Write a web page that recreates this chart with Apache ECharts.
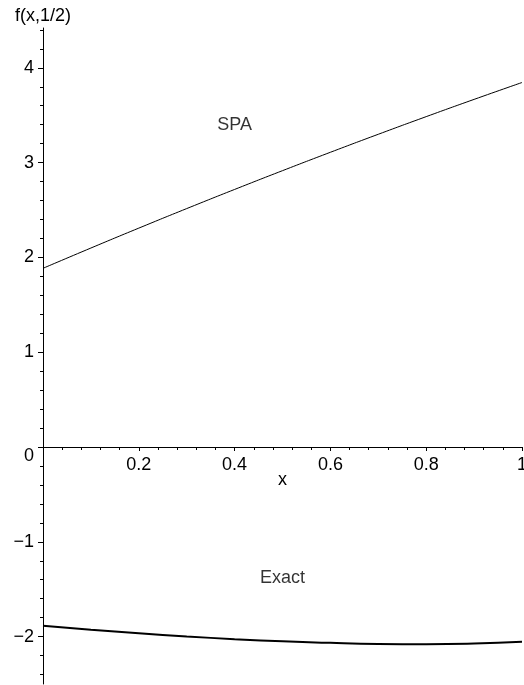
<!DOCTYPE html>
<html>
<head>
<meta charset="utf-8">
<script src="https://cdn.jsdelivr.net/npm/echarts@6/dist/echarts.min.js"></script>
<style>
html,body{margin:0;padding:0;background:#fff;}
#c{width:524px;height:685px;}
</style>
</head>
<body>
<div id="c"></div>
<script>
var xs = [0, 0.1, 0.2, 0.3, 0.4, 0.5, 0.6, 0.7, 0.8, 0.9, 1.0];
var spa = [1.885, 2.099, 2.309, 2.515, 2.717, 2.915, 3.109, 3.299, 3.485, 3.667, 3.845];
var exact = [-1.885, -1.928, -1.965, -1.998, -2.027, -2.050, -2.066, -2.077, -2.080, -2.073, -2.055];
var yLabels = [-2, -1, 0, 1, 2, 3, 4];
var yMinor = [-2.4, -2.2, -1.8, -1.6, -1.4, -1.2, -0.8, -0.6, -0.4, -0.2, 0.2, 0.4, 0.6, 0.8, 1.2, 1.4, 1.6, 1.8, 2.2, 2.4, 2.6, 2.8, 3.2, 3.4, 3.6, 3.8, 4.2, 4.4];
var xLabels = [0.2, 0.4, 0.6, 0.8, 1];
var notes = [[0.4, 3.40, 'SPA'], [0.5, -1.38, 'Exact']];

var font = 'Liberation Sans, Arial, Helvetica, sans-serif';
var chart = echarts.init(document.getElementById('c'), null, {renderer: 'canvas'});

function pairs(a) { return xs.map(function (x, i) { return [x, a[i]]; }); }

chart.setOption({
  animation: false,
  backgroundColor: '#fff',
  grid: [
    {left: 43, right: 2, top: 28, bottom: 1, containLabel: false, outerBoundsMode: 'none'},
    {left: 43, right: 2, top: 28, bottom: 238, containLabel: false, outerBoundsMode: 'none'}
  ],
  xAxis: [{
    gridIndex: 0, type: 'value', min: 0, max: 1, show: false,
    axisLine: {onZero: false}
  }, {
    gridIndex: 1, type: 'value', min: 0, max: 1, interval: 0.2, position: 'bottom',
    name: 'x', nameLocation: 'middle', nameGap: 24, nameMoveOverlap: false,
    nameTextStyle: {color: '#000', fontSize: 18, fontFamily: font},
    axisLine: {onZero: false, lineStyle: {color: '#000', width: 1}},
    axisTick: {show: true, length: 4, customValues: xLabels, lineStyle: {color: '#000'}},
    minorTick: {show: true, splitNumber: 5, length: 3, lineStyle: {color: '#000'}},
    splitLine: {show: false},
    axisLabel: {
      color: '#000', fontSize: 18, fontFamily: font, margin: 9,
      customValues: xLabels,
      formatter: function (v) { return String(+(+v).toFixed(1)); }
    }
  }],
  yAxis: [{
    gridIndex: 0, type: 'value', min: -2.5, max: 4.42, position: 'left',
    name: 'f(x,1/2)', nameLocation: 'end', nameGap: 3,
    nameTextStyle: {color: '#000', fontSize: 18, fontFamily: font, align: 'center'},
    axisLine: {onZero: false, lineStyle: {color: '#000', width: 1}},
    axisTick: {show: true, length: 5, customValues: yLabels, lineStyle: {color: '#000'}},
    splitLine: {show: false},
    axisLabel: {
      color: '#000', fontSize: 18, fontFamily: font, margin: 9,
      customValues: yLabels,
      formatter: function (v) { return v === 0 ? '{z|0}' : (v < 0 ? '\u2212' + (-v) : String(v)); },
      rich: {z: {padding: [18, 0, 0, 0], fontSize: 18, fontFamily: font, color: '#000'}}
    }
  }, {
    gridIndex: 0, type: 'value', min: -2.5, max: 4.42, position: 'left',
    axisLine: {show: false, onZero: false},
    axisTick: {show: true, length: 3, customValues: yMinor, lineStyle: {color: '#000'}},
    splitLine: {show: false},
    axisLabel: {show: false}
  }, {
    gridIndex: 1, type: 'value', min: 0, max: 1, show: false
  }],
  series: [{
    type: 'line', name: 'SPA', xAxisIndex: 0, yAxisIndex: 0, data: pairs(spa), smooth: true, symbol: 'none',
    lineStyle: {color: '#000', width: 1}
  }, {
    type: 'line', name: 'Exact', xAxisIndex: 0, yAxisIndex: 0, data: pairs(exact), smooth: true, symbol: 'none',
    lineStyle: {color: '#000', width: 2}
  }, {
    type: 'scatter', xAxisIndex: 0, yAxisIndex: 0, symbolSize: 0, silent: true,
    data: notes.map(function (n) { return {value: [n[0], n[1]], name: n[2]}; }),
    label: {show: true, position: 'inside', formatter: '{b}', color: '#000', fontSize: 18, fontFamily: font}
  }]
});
</script>
</body>
</html>
